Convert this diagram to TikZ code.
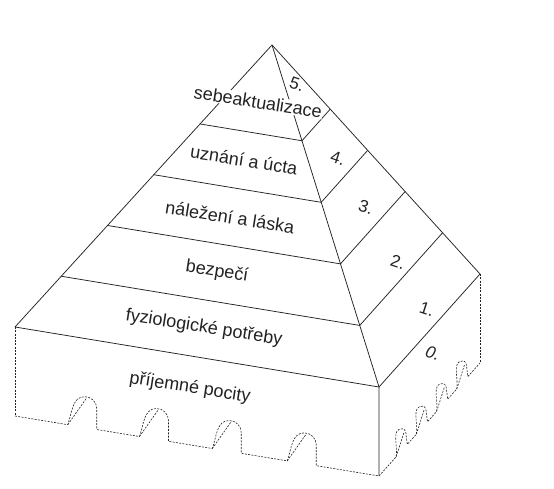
\documentclass[tikz,border=0pt]{standalone}
\usepackage{fontspec}
\setmainfont{Liberation Sans}
\usepackage{tikz}
\usetikzlibrary{calc}
\definecolor{inkgray}{RGB}{34,34,34}
\tikzset{
  pyrline/.style={draw=inkgray,line width=0.75pt,line join=round},
  hidden/.style={draw=inkgray,line width=0.6pt,dash pattern=on 2pt off 1.3pt},
  levellabel/.style={font=\fontsize{18}{21}\selectfont,text=inkgray,rotate=-9,inner sep=0.8pt},
  steplabel/.style={font=\fontsize{17}{20}\selectfont,text=inkgray,rotate=-18,inner sep=0.5pt},
}
\begin{document}
\begin{tikzpicture}[x=1pt,y=1pt]
  \useasboundingbox (0,0) rectangle (554,489);
  % corners of the pyramid and of the base block
  \coordinate (apex) at (272,444);
  \coordinate (lft)  at (15,162);
  \coordinate (frt)  at (379,102);
  \coordinate (rgt)  at (480,215);
  \coordinate (lftb) at (15,73);
  \coordinate (frtb) at (379,13);
  \coordinate (rgtb) at (480,126);
  % pyramid outline and level lines
  \draw[pyrline] (lft) -- (apex) -- (rgt) -- (frt) -- cycle;
  \draw[pyrline] (apex) -- (frt) -- (frtb);
  \foreach \t in {0.28,0.46,0.64,0.82}
    \draw[pyrline] ($(apex)!\t!(lft)$) -- ($(apex)!\t!(frt)$) -- ($(apex)!\t!(rgt)$);
  % base block, dashed, with arches
  \draw[hidden] (lft) -- (lftb);
  \draw[hidden] (rgt) -- (rgtb);
  \draw[hidden] (lftb)
    \foreach \s in {0.145,0.342,0.542,0.748}{
      -- ($(lftb)!\s!(frtb)$) to[out=70,in=180] ++(17,28) to[out=0,in=90] ++(12,-12) -- ++(0,-20.8)
    } -- (frtb);
  \foreach \s in {0.145,0.342,0.542,0.748}
    \draw[hidden] ($(lftb)!\s!(frtb)$) -- ++(19,27);
  \draw[hidden] (frtb)
    \foreach \s in {0.17,0.37,0.57,0.77}{
      -- ($(frtb)!\s!(rgtb)$) to[out=80,in=180] ++(6,28) to[out=0,in=90] ++(4,-7) -- ++(1.1,-8.6)
    } -- (rgtb);
  \foreach \s in {0.17,0.37,0.57,0.77}
    \draw[hidden] ($(frtb)!\s!(rgtb)$) -- ++(8,25);
  % level names on the front face
  \node[levellabel,fill=white] (selfact) at (258,387) {sebeaktualizace};
  \node[levellabel] (esteem)   at (244,329) {uznání a úcta};
  \node[levellabel] (belong)   at (230,272) {náležení a láska};
  \node[levellabel] (safety)   at (217,217) {bezpečí};
  \node[levellabel] (physio)   at (204,161) {fyziologické potřeby};
  \node[levellabel] (pleasure) at (190,101) {příjemné pocity};
  % level numbers on the right face
  \node[steplabel] (n5) at (297,405) {5.};
  \node[steplabel] (n4) at (338,331) {4.};
  \node[steplabel] (n3) at (366,282) {3.};
  \node[steplabel] (n2) at (398,227) {2.};
  \node[steplabel] (n1) at (427,180) {1.};
  \node[steplabel] (n0) at (433,136) {\itshape 0.};
\end{tikzpicture}
\end{document}
